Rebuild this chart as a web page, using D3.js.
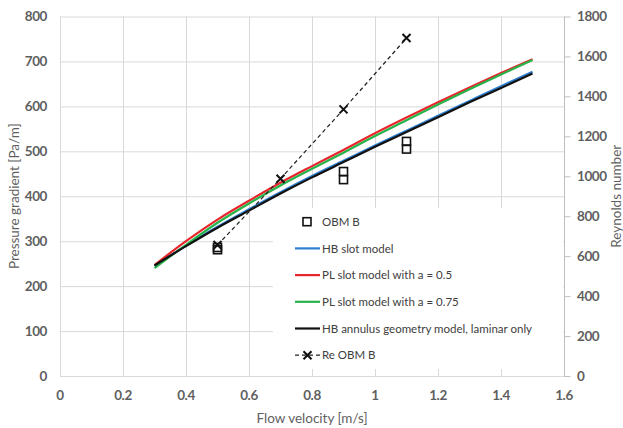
<!DOCTYPE html>
<html>
<head>
<meta charset="utf-8">
<script src="https://cdn.jsdelivr.net/npm/d3@7"></script>
<style>
  body { margin: 0; background: #fff; }
  svg { font-family: Lato, "Open Sans", sans-serif; }
</style>
</head>
<body>
<div id="container"></div>
<script>
const WIDTH = 623;
const HEIGHT = 428;
const MARGIN = { TOP: 16.5, BOTTOM: 52, LEFT: 60, RIGHT: 59 };

// flow velocity [m/s] for the model curves
const velocity = [0.3, 0.4, 0.5, 0.6, 0.7, 0.8, 0.9, 1.0, 1.1, 1.2, 1.3, 1.4, 1.5];
// pressure gradient [Pa/m]
const hbSlot      = [245, 290, 332, 371, 409, 445, 479, 513, 546, 579, 612, 645, 677];
const plSlot05    = [247, 300, 348, 390, 430, 467, 503, 540, 575, 609, 642, 674, 705];
const plSlot075   = [240, 292, 341, 384, 424, 461, 497, 534, 569, 604, 638, 671, 703];
const hbAnnulus   = [246, 289, 330, 368, 406, 442, 476, 510, 543, 576, 609, 641, 673];

// measured OBM B
const obmVelocity = [0.5, 0.5, 0.9, 0.9, 1.1, 1.1];
const obmPressure = [281, 286, 437, 455, 505, 522];

// Reynolds number OBM B
const reVelocity = [0.5, 0.7, 0.9, 1.1];
const reValues   = [656, 988, 1335, 1692];

const xTicks = [0, 0.2, 0.4, 0.6, 0.8, 1, 1.2, 1.4, 1.6];
const yTicks = [0, 100, 200, 300, 400, 500, 600, 700, 800];
const reTicks = [0, 200, 400, 600, 800, 1000, 1200, 1400, 1600, 1800];

const series = [
  { name: 'HB slot model', values: hbSlot, color: '#2e7fd0' },
  { name: 'PL slot model with a = 0.5', values: plSlot05, color: '#e8252b' },
  { name: 'PL slot model with a = 0.75', values: plSlot075, color: '#28b34a' },
  { name: 'HB annulus geometry model, laminar only', values: hbAnnulus, color: '#111111' }
];

const x = d3.scaleLinear().domain([0, 1.6]).range([MARGIN.LEFT, WIDTH - MARGIN.RIGHT]);
const y = d3.scaleLinear().domain([0, 800]).range([HEIGHT - MARGIN.BOTTOM, MARGIN.TOP]);
const yRe = d3.scaleLinear().domain([0, 1800]).range([HEIGHT - MARGIN.BOTTOM, MARGIN.TOP]);

const svg = d3.select('#container')
  .append('svg')
    .attr('width', WIDTH)
    .attr('height', HEIGHT);

const GRID = '#d9d9d9';
const TXT = '#5f5f5f';

// gridlines
svg.append('g')
  .selectAll('line')
  .data(yTicks)
  .join('line')
    .attr('x1', x(0)).attr('x2', x(1.6))
    .attr('y1', d => y(d) + 0.5).attr('y2', d => y(d) + 0.5)
    .attr('stroke', GRID);

svg.append('g')
  .selectAll('line')
  .data(xTicks)
  .join('line')
    .attr('x1', d => Math.round(x(d)) + 0.5).attr('x2', d => Math.round(x(d)) + 0.5)
    .attr('y1', y(800)).attr('y2', y(0) + 1)
    .attr('stroke', GRID);

// right axis line and ticks
const rightAxis = svg.append('g')
  .attr('transform', `translate(${Math.round(x(1.6)) + 0.5},0)`);
rightAxis.append('line')
  .attr('y1', yRe(1800)).attr('y2', yRe(0) + 0.5)
  .attr('stroke', '#bfbfbf');
rightAxis.selectAll('.tick')
  .data(reTicks)
  .join('line')
    .attr('x1', 0).attr('x2', 6)
    .attr('y1', d => yRe(d) + 0.5).attr('y2', d => yRe(d) + 0.5)
    .attr('stroke', '#bfbfbf');

// tick labels
const tickText = sel => sel
  .attr('dy', '0.36em')
  .attr('font-size', 13.5).attr('font-weight', 'bold')
  .attr('letter-spacing', -0.4)
  .attr('fill', TXT);

svg.append('g')
  .selectAll('text')
  .data(yTicks)
  .join('text')
    .attr('x', 47).attr('y', d => y(d))
    .attr('text-anchor', 'end')
    .call(tickText)
    .text(d => d);

svg.append('g')
  .selectAll('text')
  .data(reTicks)
  .join('text')
    .attr('x', 577).attr('y', d => yRe(d))
    .call(tickText)
    .text(d => d);

svg.append('g')
  .selectAll('text')
  .data(xTicks)
  .join('text')
    .attr('x', d => x(d)).attr('y', 395)
    .attr('text-anchor', 'middle')
    .call(tickText)
    .text(d => d);

// axis titles
svg.append('text')
  .attr('x', (x(0) + x(1.6)) / 2).attr('y', 418)
  .attr('dy', '0.36em')
  .attr('text-anchor', 'middle')
  .attr('font-size', 13.5).attr('fill', TXT)
  .text('Flow velocity [m/s]');

svg.append('text')
  .attr('transform', `translate(14,${(y(0) + y(800)) / 2}) rotate(-90)`)
  .attr('dy', '0.36em')
  .attr('text-anchor', 'middle')
  .attr('font-size', 13.5).attr('fill', TXT)
  .text('Pressure gradient [Pa/m]');

svg.append('text')
  .attr('transform', `translate(616,${(y(0) + y(800)) / 2}) rotate(-90)`)
  .attr('dy', '0.36em')
  .attr('text-anchor', 'middle')
  .attr('font-size', 13.5).attr('fill', TXT)
  .text('Reynolds number');

// legend background (covers the grid, drawn before the data like Excel)
svg.append('rect')
  .attr('x', 273).attr('y', 208)
  .attr('width', 290).attr('height', 161)
  .attr('fill', '#fff');

// model curves
const line = d3.line()
  .x((d, i) => x(velocity[i]))
  .y(d => y(d))
  .curve(d3.curveMonotoneX);

svg.append('g')
  .selectAll('path')
  .data(series)
  .join('path')
    .attr('d', s => line(s.values))
    .attr('fill', 'none')
    .attr('stroke', s => s.color)
    .attr('stroke-width', 2.2);

// measured points
svg.append('g')
  .selectAll('rect')
  .data(obmPressure)
  .join('rect')
    .attr('x', (d, i) => x(obmVelocity[i]) - 4)
    .attr('y', d => y(d) - 4)
    .attr('width', 8).attr('height', 8)
    .attr('fill', 'none')
    .attr('stroke', '#111')
    .attr('stroke-width', 1.6);

// Reynolds number
const reLine = d3.line()
  .x((d, i) => x(reVelocity[i]))
  .y(d => yRe(d));

svg.append('path')
  .attr('d', reLine(reValues))
  .attr('fill', 'none')
  .attr('stroke', '#222')
  .attr('stroke-width', 1.2)
  .attr('stroke-dasharray', '4,3');

const cross = (g, cx, cy) => {
  g.append('path')
    .attr('d', `M${cx - 4},${cy - 4}L${cx + 4},${cy + 4}M${cx - 4},${cy + 4}L${cx + 4},${cy - 4}`)
    .attr('stroke', '#111')
    .attr('stroke-width', 2);
};

const reMarks = svg.append('g');
reValues.forEach((d, i) => cross(reMarks, x(reVelocity[i]), yRe(d)));

// legend
const LEG_X = 295;
const LEG_Y = 221.7;
const LEG_STEP = 26.7;
const legend = svg.append('g');

legend.append('rect')
  .attr('x', LEG_X + 8).attr('y', LEG_Y - 4)
  .attr('width', 8).attr('height', 8)
  .attr('fill', 'none').attr('stroke', '#111').attr('stroke-width', 1.6);

series.forEach((s, i) => {
  const ly = LEG_Y + LEG_STEP * (i + 1);
  legend.append('line')
    .attr('x1', LEG_X).attr('x2', LEG_X + 25)
    .attr('y1', ly).attr('y2', ly)
    .attr('stroke', s.color).attr('stroke-width', 2.2);
});

const reY = LEG_Y + LEG_STEP * 5;
legend.append('line')
  .attr('x1', LEG_X).attr('x2', LEG_X + 25)
  .attr('y1', reY).attr('y2', reY)
  .attr('stroke', '#222').attr('stroke-width', 1.2)
  .attr('stroke-dasharray', '4,3');
cross(legend, LEG_X + 12.5, reY);

const legendNames = ['OBM B'].concat(series.map(s => s.name), ['Re OBM B']);
legend.selectAll('text')
  .data(legendNames)
  .join('text')
    .attr('x', LEG_X + 27)
    .attr('y', (d, i) => LEG_Y + LEG_STEP * i)
    .attr('dy', '0.36em')
    .attr('font-size', 11.5)
    .attr('fill', '#404040')
    .text(d => d);
</script>
</body>
</html>
